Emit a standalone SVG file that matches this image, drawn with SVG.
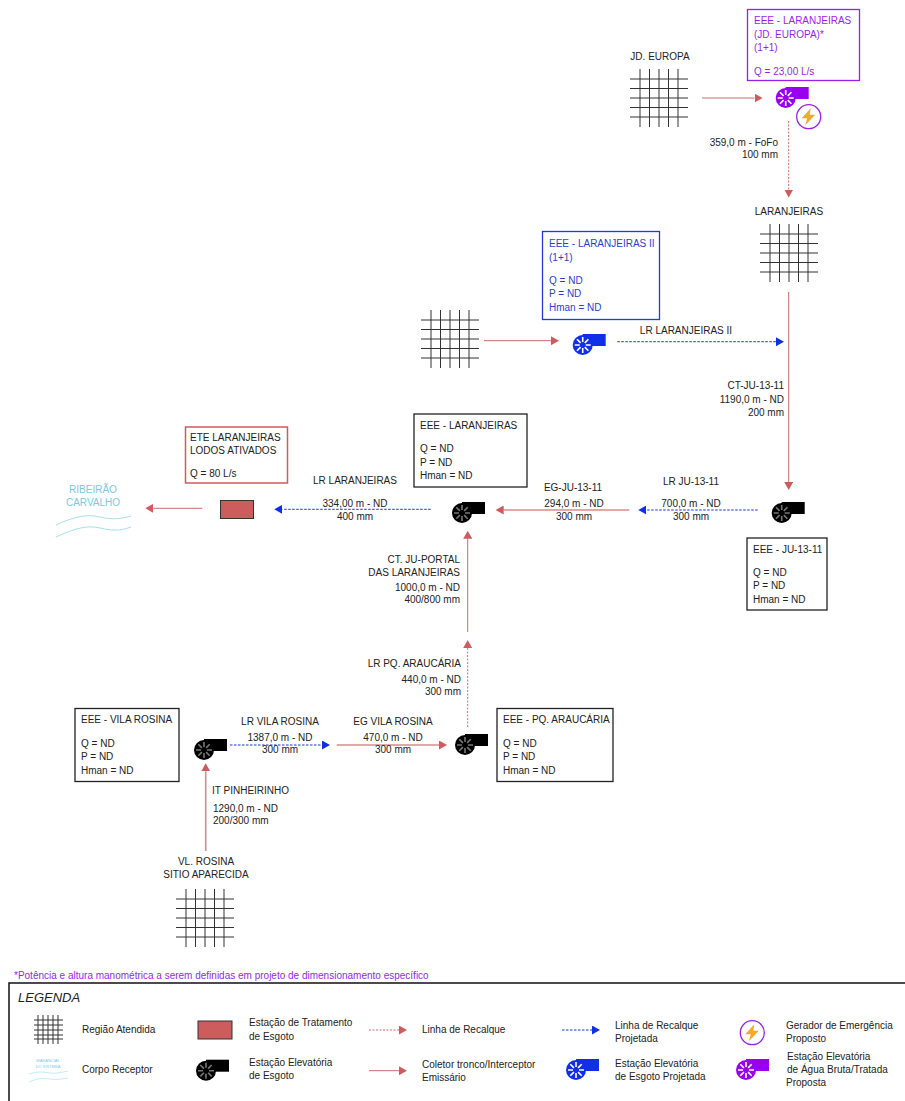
<svg xmlns="http://www.w3.org/2000/svg" xmlns:xlink="http://www.w3.org/1999/xlink" width="905" height="1101" viewBox="0 0 905 1101">
<style>
text{font-family:"Liberation Sans",Arial,sans-serif;font-size:10px;fill:#222}
.e{text-anchor:end}.m{text-anchor:middle}
.box{fill:#fff;stroke:#222;stroke-width:1.3}
.pu,.pu text{fill:#9a1fe8}.bl text{fill:#2a3fd0}
.riv{fill:none;stroke:#8fd6ea;stroke-width:.8}
.rs{stroke:#cd6a6a;stroke-width:1;fill:none}
.rt{stroke:#d98a8a;stroke-width:1.6;fill:none}
.rd{stroke:#cd6a6a;stroke-width:1;stroke-dasharray:2 1.5;fill:none}
.bd{stroke:#1433e0;stroke-width:1;stroke-dasharray:2.5 1.5;fill:none}
.gl{stroke:#333;stroke-width:1;fill:none}
</style>
<defs>
<marker id="ar" markerUnits="userSpaceOnUse" markerWidth="8" markerHeight="9" refX="0" refY="4.5" orient="auto"><path d="M0,0L8,4.5L0,9z" fill="#cd5c5c"/></marker>
<marker id="ab" markerUnits="userSpaceOnUse" markerWidth="8" markerHeight="9" refX="0" refY="4.5" orient="auto"><path d="M0,0L8,4.5L0,9z" fill="#0f2fe8"/></marker>
<g id="pump"><rect x="0" y="-11" width="23" height="12" stroke="none"/><circle r="10" stroke="none"/>
<g stroke-width="1.6" fill="none"><path d="M3,0H8M-3,0H-8M0,3V8M0,-3V-8M2.1,2.1L5.7,5.7M-2.1,2.1L-5.7,5.7M2.1,-2.1L5.7,-5.7M-2.1,-2.1L-5.7,-5.7"/></g></g>
<g id="grid"><path class="gl" d="M0,10H58M0,19.5H58M0,29H58M0,38.5H58M0,48H58M10,0V58M19.5,0V58M29,0V58M38.5,0V58M48,0V58"/></g>
<g id="gen"><circle r="12" fill="#fff" stroke="#9a1fe8" stroke-width="1.3"/><path d="M2,-8.5L-7,1.5H-1.5L-3.5,8.5L6.5,-2H1z" fill="#f9a825"/></g>
</defs>
<rect width="905" height="1101" fill="#fff"/>

<g id="connectors">
<line class="rs" x1="702" y1="98" x2="754.5" y2="98" marker-end="url(#ar)"/>
<line class="rd" x1="788.7" y1="121" x2="788.7" y2="189.5" marker-end="url(#ar)"/>
<line class="rs" x1="484" y1="340.7" x2="551" y2="340.7" marker-end="url(#ar)"/>
<line class="bd" x1="617.3" y1="341.7" x2="776" y2="341.7" marker-end="url(#ab)"/>
<line class="rs" x1="788.7" y1="292" x2="788.7" y2="482" marker-end="url(#ar)"/>
<line class="bd" x1="757.7" y1="510" x2="646.3" y2="510" marker-end="url(#ab)"/>
<line class="rt" x1="629.3" y1="510" x2="503.7" y2="510" marker-end="url(#ar)"/>
<line class="bd" x1="430.7" y1="509.3" x2="282.3" y2="509.3" marker-end="url(#ab)"/>
<line class="rs" x1="202.3" y1="508.3" x2="153.3" y2="508.3" marker-end="url(#ar)"/>
<line class="rs" x1="467.7" y1="632" x2="467.7" y2="538.7" marker-end="url(#ar)"/>
<line class="rd" x1="467.7" y1="727" x2="467.7" y2="648" marker-end="url(#ar)"/>
<line class="bd" x1="230" y1="745" x2="322" y2="745" marker-end="url(#ab)"/>
<line class="rt" x1="336.7" y1="745" x2="439" y2="745" marker-end="url(#ar)"/>
<line class="rt" x1="205.7" y1="851" x2="205.7" y2="771.3" marker-end="url(#ar)"/>
</g>

<g id="grid-jd-europa"><text class="m" x="660" y="60">JD. EUROPA</text><use href="#grid" x="630" y="69"/></g>
<g id="grid-laranjeiras"><text class="m" x="789" y="215">LARANJEIRAS</text><use href="#grid" x="760" y="224"/></g>
<g id="grid-sem-nome"><use href="#grid" x="421" y="310"/></g>
<g id="grid-vl-rosina"><text class="m" x="206" y="865">VL. ROSINA</text><text class="m" x="206" y="878">SITIO APARECIDA</text><use href="#grid" x="176" y="889"/></g>

<g id="eee-jd-europa" class="pu">
<rect x="747.5" y="9.5" width="112" height="71" fill="#fff" stroke="#9a1fe8" stroke-width="1.3"/>
<text x="754" y="24">EEE - LARANJEIRAS</text><text x="754" y="38">(JD. EUROPA)*</text><text x="754" y="51">(1+1)</text><text x="754" y="75">Q = 23,00 L/s</text>
<use href="#pump" x="785.7" y="98" fill="#9a00f0" stroke="#fff"/>
<use href="#gen" x="808.7" y="116.7"/>
</g>
<g id="eee-laranjeiras-ii" class="bl">
<rect x="542.5" y="231.5" width="117" height="88" fill="#fff" stroke="#1f3bd8" stroke-width="1.3"/>
<text x="549" y="247">EEE - LARANJEIRAS II</text><text x="549" y="261">(1+1)</text><text x="549" y="284">Q = ND</text><text x="549" y="297">P = ND</text><text x="549" y="311">Hman = ND</text>
<use href="#pump" x="582.7" y="345" fill="#0f2fe8" stroke="#fff"/>
</g>
<g id="eee-laranjeiras">
<rect class="box" x="414" y="414" width="113" height="73"/>
<text x="420" y="429">EEE - LARANJEIRAS</text><text x="420" y="452">Q = ND</text><text x="420" y="466">P = ND</text><text x="420" y="479">Hman = ND</text>
<use href="#pump" x="462" y="513" fill="#000" stroke="#777"/>
</g>
<g id="eee-ju-13-11">
<rect class="box" x="747" y="538" width="80" height="72"/>
<text x="753" y="553">EEE - JU-13-11</text><text x="753" y="576">Q = ND</text><text x="753" y="589">P = ND</text><text x="753" y="603">Hman = ND</text>
<use href="#pump" x="781.7" y="513" fill="#000" stroke="#777"/>
</g>
<g id="eee-vila-rosina">
<rect class="box" x="75" y="708.5" width="104" height="73"/>
<text x="81" y="723">EEE - VILA ROSINA</text><text x="81" y="747">Q = ND</text><text x="81" y="760">P = ND</text><text x="81" y="774">Hman = ND</text>
<use href="#pump" x="204" y="750" fill="#000" stroke="#777"/>
</g>
<g id="eee-pq-araucaria">
<rect class="box" x="497" y="708.5" width="116" height="73"/>
<text x="503" y="723">EEE - PQ. ARAUCÁRIA</text><text x="503" y="747">Q = ND</text><text x="503" y="760">P = ND</text><text x="503" y="774">Hman = ND</text>
<use href="#pump" x="465" y="745" fill="#000" stroke="#777"/>
</g>
<g id="ete-laranjeiras">
<rect x="185.5" y="427" width="102" height="56" fill="#fff" stroke="#cd5c5c" stroke-width="1.5"/>
<text x="190" y="441">ETE LARANJEIRAS</text><text x="190" y="454">LODOS ATIVADOS</text><text x="190" y="477">Q = 80 L/s</text>
<rect x="220.5" y="500.5" width="33" height="18" fill="#cd5c5c" stroke="#333"/>
</g>
<g id="ribeirao-carvalho">
<text class="m" x="93" y="493" style="fill:#7cc8e8">RIBEIRÃO</text><text class="m" x="93" y="506" style="fill:#7cc8e8">CARVALHO</text>
<path class="riv" d="M56,525C75,516 88,514 100,517S120,519 131,516"/><path class="riv" d="M56,537C75,528 88,525 100,528S120,531 131,527"/>
</g>

<g id="connector-labels">
<text class="e" x="778" y="146">359,0 m - FoFo</text><text class="e" x="778" y="158">100 mm</text>
<text class="m" x="686" y="334">LR  LARANJEIRAS II</text>
<text class="e" x="784" y="389">CT-JU-13-11</text><text class="e" x="784" y="403">1190,0 m - ND</text><text class="e" x="784" y="416">200 mm</text>
<text class="m" x="355" y="484">LR LARANJEIRAS</text><text class="m" x="355" y="507">334,00 m - ND</text><text class="m" x="355" y="520">400 mm</text>
<text class="m" x="573" y="491">EG-JU-13-11</text><text class="m" x="574" y="507">294,0 m - ND</text><text class="m" x="574" y="520">300 mm</text>
<text class="m" x="691" y="485">LR JU-13-11</text><text class="m" x="691" y="507">700,0 m - ND</text><text class="m" x="691" y="520">300 mm</text>
<text class="e" x="460" y="563">CT. JU-PORTAL</text><text class="e" x="460" y="576">DAS LARANJEIRAS</text><text class="e" x="460" y="591">1000,0 m - ND</text><text class="e" x="460" y="603">400/800 mm</text>
<text class="e" x="461" y="667">LR PQ. ARAUCÁRIA</text><text class="e" x="461" y="683">440,0 m - ND</text><text class="e" x="461" y="695">300 mm</text>
<text class="m" x="280" y="725">LR VILA ROSINA</text><text class="m" x="280" y="741">1387,0 m - ND</text><text class="m" x="280" y="753">300 mm</text>
<text class="m" x="393" y="725">EG VILA ROSINA</text><text class="m" x="393" y="741">470,0 m - ND</text><text class="m" x="393" y="753">300 mm</text>
<text x="212" y="794">IT PINHEIRINHO</text><text x="213" y="812">1290,0 m - ND</text><text x="213" y="824">200/300 mm</text>
</g>

<text id="nota" x="14" y="979" style="fill:#9a1fe8">*Potência e altura manométrica a serem definidas em projeto de dimensionamento específico</text>

<g id="legenda">
<rect x="9" y="983" width="897" height="130" fill="#fff" stroke="#111" stroke-width="1.5"/>
<text x="18" y="1002" font-style="italic" style="font-size:13px">LEGENDA</text>
<path class="gl" d="M34,1020H63M34,1025H63M34,1030H63M34,1035H63M34,1039H63M38,1015V1044M43,1015V1044M48,1015V1044M53,1015V1044M58,1015V1044"/>
<text x="82" y="1033">Região Atendida</text>
<text class="m" x="48" y="1062" style="font-size:4px;fill:#7cc8e8">MANANCIAL</text><text class="m" x="48" y="1068" style="font-size:4px;fill:#7cc8e8">DO SISTEMA</text>
<path class="riv" style="stroke-width:.5" d="M29,1074C38,1071 44,1072 50,1073S62,1072 68,1071"/><path class="riv" style="stroke-width:.5" d="M29,1082C38,1078 44,1078 50,1079S62,1079 68,1078"/>
<text x="82" y="1073">Corpo Receptor</text>
<rect x="198" y="1021" width="34" height="18" fill="#cd5c5c" stroke="#333"/>
<text x="249" y="1026">Estação de Tratamento</text><text x="249" y="1040">de Esgoto</text>
<use href="#pump" x="206" y="1070.7" fill="#000" stroke="#777"/>
<text x="249" y="1066">Estação Elevatória</text><text x="249" y="1079">de Esgoto</text>
<line class="rd" x1="369" y1="1030" x2="399" y2="1030" marker-end="url(#ar)"/>
<text x="422" y="1033">Linha de Recalque</text>
<line class="rs" x1="369" y1="1070.7" x2="399" y2="1070.7" marker-end="url(#ar)"/>
<text x="422" y="1068">Coletor tronco/Interceptor</text><text x="422" y="1081">Emissário</text>
<line class="bd" x1="562" y1="1030" x2="592" y2="1030" marker-end="url(#ab)"/>
<text x="615" y="1029">Linha de Recalque</text><text x="615" y="1042">Projetada</text>
<use href="#pump" x="576" y="1070" fill="#0f2fe8" stroke="#fff"/>
<text x="615" y="1067">Estação Elevatória</text><text x="615" y="1080">de Esgoto Projetada</text>
<use href="#gen" x="752.3" y="1032.7"/>
<text x="786" y="1029">Gerador de Emergência</text><text x="786" y="1042">Proposto</text>
<use href="#pump" x="746" y="1070" fill="#9a00f0" stroke="#fff"/>
<text x="787" y="1060">Estação Elevatória</text><text x="787" y="1073">de Água Bruta/Tratada</text><text x="786" y="1086">Proposta</text>
</g>
</svg>
